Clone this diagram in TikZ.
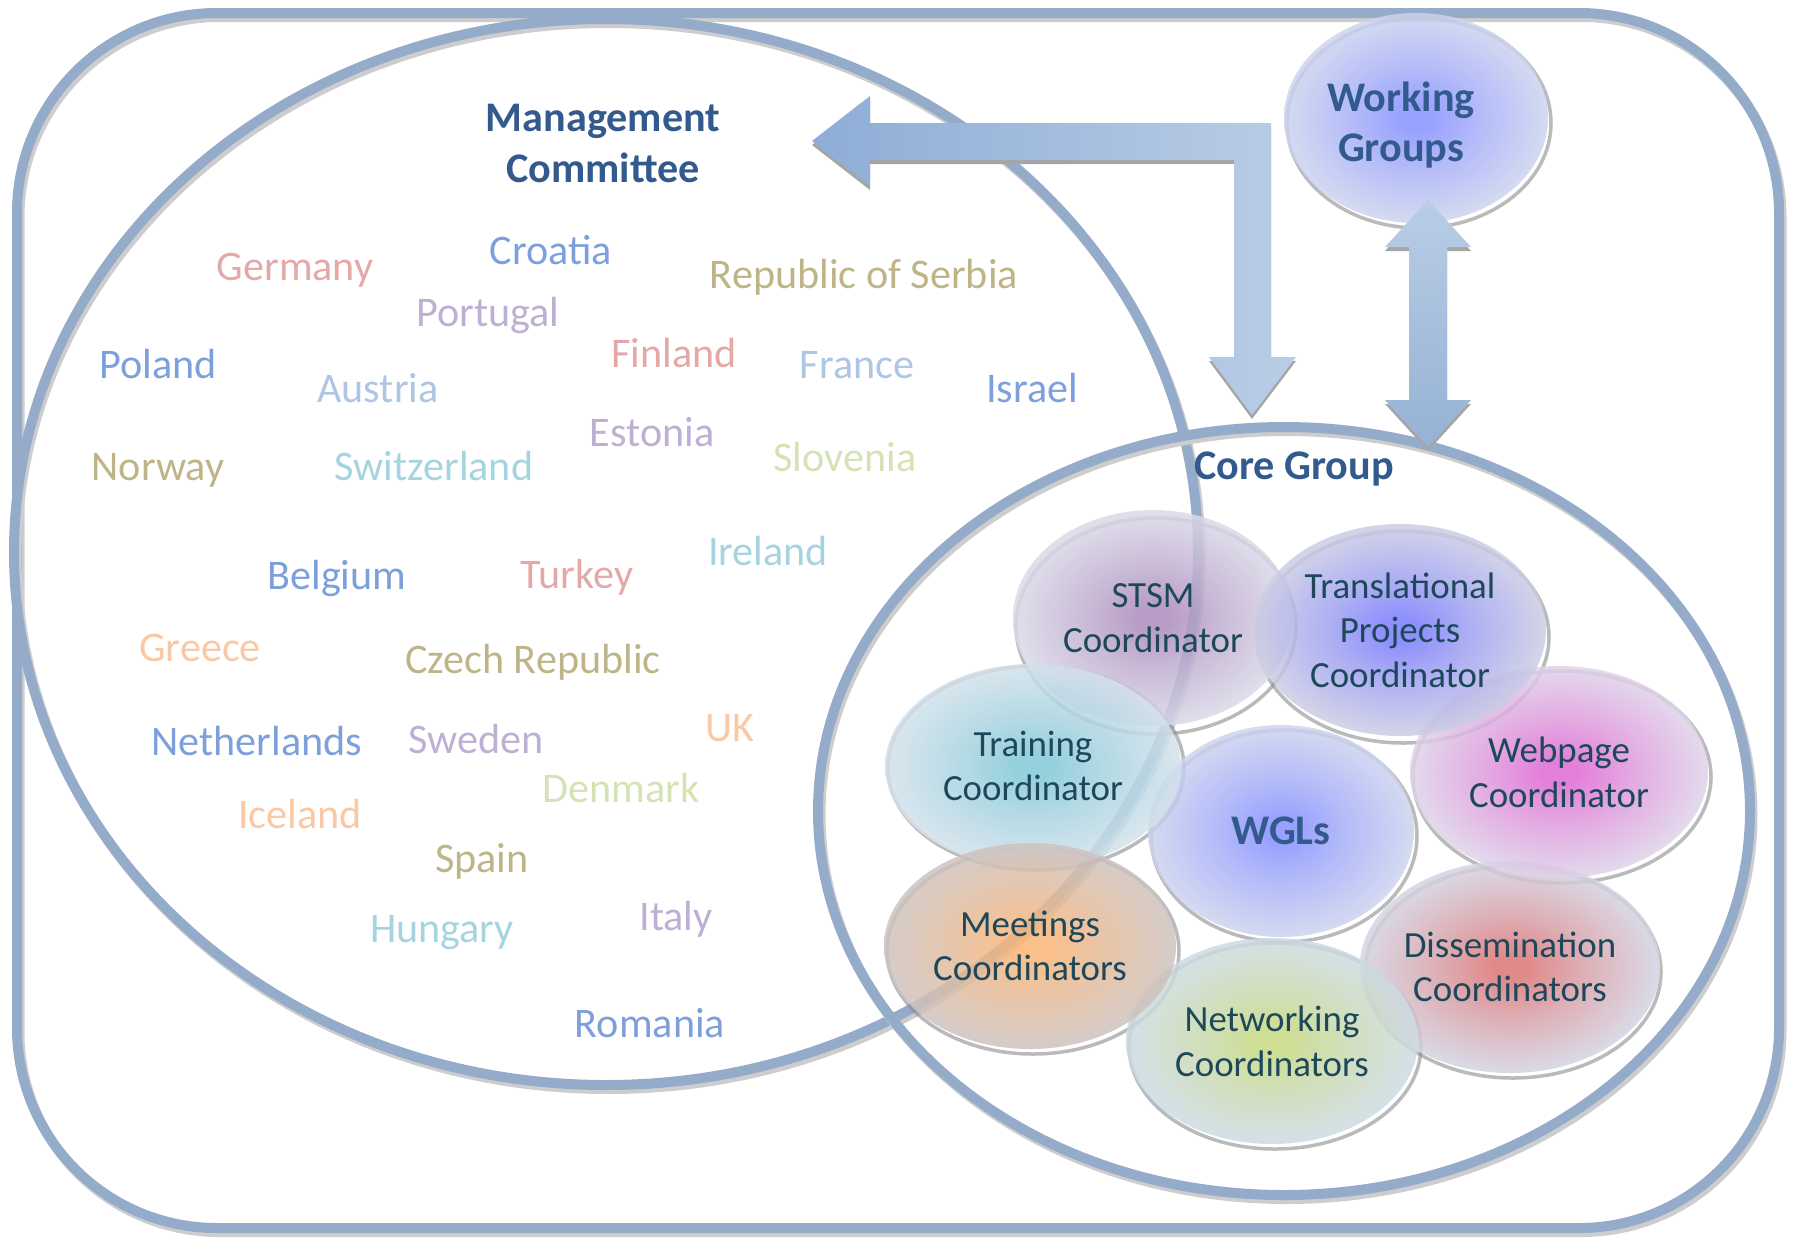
\documentclass[tikz,border=0pt]{standalone}
\usepackage{fontspec}
\setmainfont{Carlito}
\usetikzlibrary{shapes.geometric}
\definecolor{ringblue}{RGB}{148,172,202}
\definecolor{shadegray}{RGB}{205,205,205}
\definecolor{ttlblue}{RGB}{50,90,140}
\definecolor{crdtext}{RGB}{30,72,90}
\definecolor{arrdark}{RGB}{142,173,214}
\definecolor{arrlight}{RGB}{185,205,230}
\definecolor{arrmid}{RGB}{150,178,212}
\definecolor{arrgray}{RGB}{165,165,165}
% country colours
\definecolor{cblue}{RGB}{125,160,220}
\definecolor{clblue}{RGB}{175,197,228}
\definecolor{cpink}{RGB}{228,168,168}
\definecolor{ckhaki}{RGB}{190,180,135}
\definecolor{clav}{RGB}{190,175,212}
\definecolor{ccyan}{RGB}{165,212,225}
\definecolor{cgreen}{RGB}{212,226,180}
\definecolor{cpeach}{RGB}{250,200,165}
% circle colours
\definecolor{stsmin}{RGB}{172,140,188}
\definecolor{stsmout}{RGB}{218,218,232}
\definecolor{tpin}{RGB}{122,125,252}
\definecolor{tpout}{RGB}{205,205,228}
\definecolor{trnin}{RGB}{130,200,215}
\definecolor{trnout}{RGB}{212,225,235}
\definecolor{webin}{RGB}{222,105,212}
\definecolor{webout}{RGB}{222,212,232}
\definecolor{wglin}{RGB}{135,145,255}
\definecolor{wglout}{RGB}{205,212,238}
\definecolor{meetin}{RGB}{250,180,118}
\definecolor{meetout}{RGB}{205,195,192}
\definecolor{netin}{RGB}{198,216,130}
\definecolor{netout}{RGB}{205,218,228}
\definecolor{dissin}{RGB}{218,118,118}
\definecolor{dissout}{RGB}{212,212,228}
\colorlet{crdin}{white}
\colorlet{crdout}{white}
\pgfdeclareradialshading[crdin,crdout]{crdglow}{\pgfpointorigin}{%
    color(0bp)=(crdin); color(3bp)=(crdin); color(12bp)=(crdin!55!crdout);
    color(25bp)=(crdout); color(50bp)=(crdout)}
\tikzset{%
    ring/.style={draw=ringblue, line width=1mm},
    ringshade/.style={draw=shadegray, line width=1mm, xshift=0.25mm, yshift=-0.4mm},
    cty/.style={anchor=base, inner sep=0pt, font=\fontsize{12}{14}\selectfont, text=#1},
    ttl/.style={align=center, text=ttlblue, font=\bfseries\fontsize{12}{14.5}\selectfont},
    crd/.style 2 args={ellipse, inner sep=0pt, /utils/exec={\colorlet{crdin}{#1}\colorlet{crdout}{#2}},
        shading=crdglow, fill opacity=0.85, text opacity=1, text=crdtext, align=center,
        font=\fontsize{10.5}{12.7}\selectfont},
    crdshade/.style={draw=black!45, line width=0.35mm, opacity=0.6},
    arrshade/.style={fill=arrgray, transform canvas={yshift=-0.4mm}}
}

\begin{document}
\begin{tikzpicture}[x=0.1mm, y=-0.1mm]
    \useasboundingbox (0,0) rectangle (1794,1237);

    % frame and the two group rings
    \draw[ringshade, rounded corners=20mm] (17,13) rectangle (1779,1228);
    \draw[ring, rounded corners=20mm] (17,13) rectangle (1779,1228);
    \draw[ringshade] (606,552) ellipse [x radius=59.2mm, y radius=53.3mm];
    \draw[ring] (606,552) ellipse [x radius=59.2mm, y radius=53.3mm];
    \draw[ringshade] (1284,811) ellipse [x radius=46.6mm, y radius=38.4mm];
    \draw[ring] (1284,811) ellipse [x radius=46.6mm, y radius=38.4mm];

    \node[ttl] (mctitle) at (603,143) {Management\\Committee};
    \node[ttl] (cgtitle) at (1294,469) {Core Group};

    % countries
    \node[cty=cpink] (de) at (295,280) {Germany};
    \node[cty=cblue] (hr) at (551,264) {Croatia};
    \node[cty=ckhaki] (rs) at (864,288) {Republic of Serbia};
    \node[cty=clav] (pt) at (488,326) {Portugal};
    \node[cty=cblue] (pl) at (158,378) {Poland};
    \node[cty=clblue] (at) at (378,402) {Austria};
    \node[cty=cpink] (fi) at (674,367) {Finland};
    \node[cty=clblue] (fr) at (857,378) {France};
    \node[cty=cblue] (il) at (1032,402) {Israel};
    \node[cty=clav] (ee) at (652,446) {Estonia};
    \node[cty=ckhaki] (no) at (158,480) {Norway};
    \node[cty=ccyan] (ch) at (434,480) {Switzerland};
    \node[cty=cgreen] (si) at (845,471) {Slovenia};
    \node[cty=ccyan] (ie) at (768,565) {Ireland};
    \node[cty=cblue] (be) at (337,589) {Belgium};
    \node[cty=cpink] (tr) at (577,588) {Turkey};
    \node[cty=cpeach] (gr) at (200,661) {Greece};
    \node[cty=ckhaki] (cz) at (533,673) {Czech Republic};
    \node[cty=cblue] (nl) at (257,755) {Netherlands};
    \node[cty=clav] (se) at (476,753) {Sweden};
    \node[cty=cpeach] (uk) at (730,741) {UK};
    \node[cty=cgreen] (dk) at (621,802) {Denmark};
    \node[cty=cpeach] (is) at (300,828) {Iceland};
    \node[cty=ckhaki] (es) at (482,872) {Spain};
    \node[cty=ccyan] (hu) at (442,942) {Hungary};
    \node[cty=clav] (it) at (676,930) {Italy};
    \node[cty=cblue] (ro) at (650,1037) {Romania};

    % core group circles
    \draw[crdshade] (1513,972) ellipse [x radius=14.8mm, y radius=10.6mm];
    \draw[crdshade] (1562,777) ellipse [x radius=14.9mm, y radius=10.6mm];
    \draw[crdshade] (1275,1046) ellipse [x radius=14.6mm, y radius=10.3mm];
    \draw[crdshade] (1284,836) ellipse [x radius=13.3mm, y radius=10.6mm];
    \draw[crdshade] (1156,626) ellipse [x radius=14mm, y radius=10.8mm];
    \draw[crdshade] (1403,637) ellipse [x radius=14.6mm, y radius=10.6mm];
    \draw[crdshade] (1036,768) ellipse [x radius=14.8mm, y radius=10.2mm];
    \draw[crdshade] (1033,951) ellipse [x radius=14.6mm, y radius=10.3mm];
    \draw[crdshade] (1419,123) ellipse [x radius=13.2mm, y radius=10.5mm];

    \node[crd={dissin}{dissout}, minimum width=29.6mm, minimum height=21.2mm] (diss) at (1510,967) {Dissemination\\Coordinators};
    \node[crd={webin}{webout}, minimum width=29.8mm, minimum height=21.2mm] (web) at (1559,772) {Webpage\\Coordinator};
    \node[crd={netin}{netout}, minimum width=29.2mm, minimum height=20.6mm] (net) at (1272,1041) {Networking\\Coordinators};
    \node[crd={wglin}{wglout}, minimum width=26.6mm, minimum height=21.2mm, text=ttlblue,
        font=\bfseries\fontsize{12}{14}\selectfont] (wgl) at (1281,831) {WGLs};
    \node[crd={stsmin}{stsmout}, minimum width=28mm, minimum height=21.6mm] (stsm) at (1153,618) {STSM\\Coordinator};
    \node[crd={tpin}{tpout}, minimum width=29.2mm, minimum height=21.2mm] (tp) at (1400,630) {Translational\\Projects\\Coordinator};
    \node[crd={trnin}{trnout}, minimum width=29.6mm, minimum height=20.4mm] (trn) at (1033,766) {Training\\Coordinator};
    \node[crd={meetin}{meetout}, minimum width=29.2mm, minimum height=20.6mm] (meet) at (1030,946) {Meetings\\Coordinators};

    \node[crd={wglin}{wglout}, minimum width=26.4mm, minimum height=21mm] (wg) at (1416,118) {};
    \node[ttl] (wgtitle) at (1401,125) {Working\\Groups};

    % block arrows
    \coordinate (mcTip) at (812,141);
    \coordinate (cgTip) at (1252,415);
    \coordinate (wgTip) at (1428,200);
    \coordinate (cgTip2) at (1428,447);

    \fill[arrshade] (mcTip) -- ++(58,-45) -- ++(0,27) -- ++(401,0) -- ++(0,234) -- ++(25,0)
        -- (cgTip) -- ++(-43,-58) -- ++(25,0) -- ++(0,-197) -- ++(-364,0) -- ++(0,26) -- cycle;
    \shade[left color=arrdark, right color=arrlight] (mcTip) -- ++(58,-45) -- ++(0,27) -- ++(401,0)
        -- ++(0,234) -- ++(25,0) -- (cgTip) -- ++(-43,-58) -- ++(25,0) -- ++(0,-197) -- ++(-364,0)
        -- ++(0,26) -- cycle;

    \fill[arrshade] (wgTip) -- ++(43,47) -- ++(-24,0) -- ++(0,153) -- ++(24,0) -- (cgTip2)
        -- ++(-43,-47) -- ++(24,0) -- ++(0,-153) -- ++(-24,0) -- cycle;
    \shade[top color=arrlight, bottom color=arrmid] (wgTip) -- ++(43,47) -- ++(-24,0) -- ++(0,153)
        -- ++(24,0) -- (cgTip2) -- ++(-43,-47) -- ++(24,0) -- ++(0,-153) -- ++(-24,0) -- cycle;
\end{tikzpicture}
\end{document}
